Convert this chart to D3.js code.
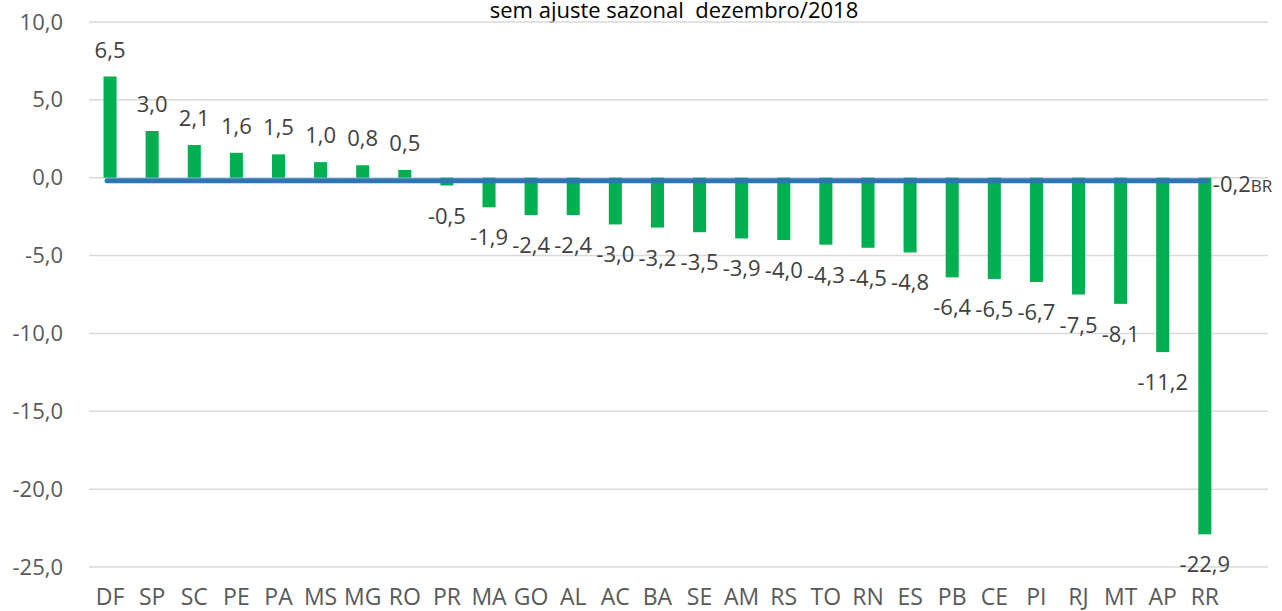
<!DOCTYPE html>
<html>
<head>
<meta charset="utf-8">
<script src="https://cdn.jsdelivr.net/npm/d3@7"></script>
<style>
  body { margin: 0; background: #fff; }
  text { font-family: "Open Sans", sans-serif; }
</style>
</head>
<body>
<svg id="chart" width="1282" height="611"></svg>
<script>
// dados
const estados = ["DF","SP","SC","PE","PA","MS","MG","RO","PR","MA","GO","AL","AC","BA","SE","AM","RS","TO","RN","ES","PB","CE","PI","RJ","MT","AP","RR"];
const valores = [6.5,3.0,2.1,1.6,1.5,1.0,0.8,0.5,-0.5,-1.9,-2.4,-2.4,-3.0,-3.2,-3.5,-3.9,-4.0,-4.3,-4.5,-4.8,-6.4,-6.5,-6.7,-7.5,-8.1,-11.2,-22.9];
const brasil = -0.2;
const yTicks = [10, 5, 0, -5, -10, -15, -20, -25];
const titulo = "sem ajuste sazonal  dezembro/2018";

const fmt = v => d3.format(".1f")(v).replace(".", ",").replace("−", "-");

const svg = d3.select("#chart");
const mLeft = 89, mRight = 1268, mTop = 22, mBottom = 567;

// 28 posições (a última vazia, como no gráfico original)
const slots = estados.concat([""]);
const x = d3.scaleBand().domain(slots.map((d, i) => i)).range([mLeft, mRight]).paddingInner(0.69).paddingOuter(0.345);
const y = d3.scaleLinear().domain([-25, 10]).range([mBottom, mTop]);

// título
svg.append("text")
  .attr("x", 674).attr("y", 18)
  .attr("text-anchor", "middle")
  .attr("font-size", 22)
  .attr("fill", "#000")
  .style("white-space", "pre")
  .text(titulo);

// grade
svg.append("g").selectAll("line")
  .data(yTicks).join("line")
  .attr("x1", mLeft).attr("x2", mRight)
  .attr("y1", d => y(d)).attr("y2", d => y(d))
  .attr("stroke", "#d9d9d9").attr("stroke-width", 1.5);

// eixo y
const yAxis = svg.append("g")
  .attr("transform", `translate(${mLeft},0)`)
  .call(d3.axisLeft(y).tickValues(yTicks).tickFormat(fmt).tickSize(0).tickPadding(26));
yAxis.select(".domain").remove();
yAxis.selectAll("text").attr("font-size", 22).attr("fill", "#595959").attr("font-family", "Open Sans, sans-serif");

// eixo x
const xAxis = svg.append("g")
  .attr("transform", `translate(0,${mBottom})`)
  .call(d3.axisBottom(x).tickFormat(i => slots[i]).tickSize(0));
xAxis.select(".domain").remove();
xAxis.selectAll("text")
  .attr("y", 38).attr("dy", 0)
  .attr("font-size", 23).attr("fill", "#595959").attr("font-family", "Open Sans, sans-serif");

// barras
svg.append("g").selectAll("rect")
  .data(valores).join("rect")
  .attr("x", (d, i) => x(i))
  .attr("width", x.bandwidth())
  .attr("y", d => y(Math.max(0, d)))
  .attr("height", d => Math.abs(y(d) - y(0)))
  .attr("fill", "#00b050");

// linha BR
const xc = i => x(i) + x.bandwidth() / 2;
svg.append("line")
  .attr("x1", xc(0) - 3).attr("x2", xc(estados.length - 1) + 2)
  .attr("y1", y(brasil)).attr("y2", y(brasil))
  .attr("stroke", "#2e75b6").attr("stroke-width", 5).attr("stroke-linecap", "round");

// rótulos das barras
svg.append("g").selectAll("text")
  .data(valores).join("text")
  .attr("x", (d, i) => xc(i))
  .attr("y", d => d >= 0 ? y(d) - 19 : y(d) + 38)
  .attr("text-anchor", "middle")
  .attr("font-size", 22)
  .attr("fill", "#404040")
  .text(d => fmt(d));

// rótulo BR
const br = svg.append("text")
  .attr("x", xc(estados.length - 1) + 8)
  .attr("y", y(brasil) + 11)
  .attr("font-size", 22)
  .attr("fill", "#404040");
br.append("tspan").text(fmt(brasil));
br.append("tspan").attr("font-size", 17).text("BR");
</script>
</body>
</html>
